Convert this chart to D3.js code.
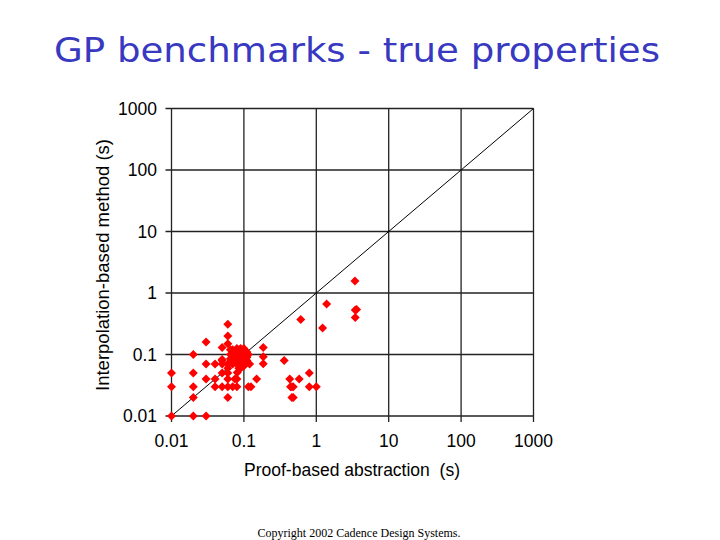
<!DOCTYPE html>
<html><head><meta charset="utf-8">
<script src="https://cdn.jsdelivr.net/npm/d3@7"></script>
<style>body{margin:0;background:#fff}svg{display:block}</style>
</head><body>
<script>
const xTicks = [0.01, 0.1, 1, 10, 100, 1000];
const yTicks = [0.01, 0.1, 1, 10, 100, 1000];
const tickLabels = ["0.01", "0.1", "1", "10", "100", "1000"];
// Proof-based abstraction time (x) and interpolation-based time (y), seconds
const proofTimes = [
  0.01,0.01,0.01, 0.02,0.02,0.02,0.02,0.02, 0.03,0.03,0.03,0.03, 0.04,0.04,0.04,
  0.05,0.05,0.05,0.05,0.05,0.05, 0.06,0.06,0.06,0.06,0.06,0.06,0.06,0.06,0.06,
  0.075,0.08,0.08,0.07,0.081,
  0.07,0.08,0.09,0.1,0.08,0.09,0.1,0.07,0.08,0.09,0.1,0.11,0.07,0.08,0.09,0.1,0.11,0.095,0.085,0.075,0.1,0.09,0.08,0.07,0.065,0.065,0.11,0.085,0.095,0.065,
  0.075,0.085,0.095,0.105,0.075,0.085,0.095,0.105,0.08,0.09,0.1,0.07,0.115,0.1,0.09,
  0.12,0.115,0.125,0.15,0.185,0.185,0.185,0.36,
  0.43,0.44,0.46,0.46,0.48,0.48,0.58,0.61,0.8,0.8,1.0,1.22,1.39,3.42,3.45,3.6,3.45
];
const interpTimes = [
  0.05,0.03,0.01, 0.1,0.05,0.03,0.02,0.01, 0.16,0.07,0.04,0.01, 0.07,0.04,0.03,
  0.13,0.08,0.07,0.05,0.03,0.083, 0.31,0.2,0.15,0.07,0.05,0.04,0.03,0.02,0.06,
  0.04,0.04,0.03,0.03,0.051,
  0.1,0.1,0.1,0.1,0.11,0.12,0.12,0.12,0.09,0.09,0.09,0.09,0.08,0.08,0.08,0.08,0.11,0.105,0.095,0.11,0.07,0.07,0.07,0.07,0.1,0.12,0.08,0.06,0.065,0.085,
  0.095,0.105,0.115,0.085,0.085,0.115,0.075,0.105,0.125,0.125,0.125,0.09,0.1,0.065,0.06,
  0.07,0.03,0.03,0.04,0.13,0.092,0.071,0.08,
  0.04,0.03,0.03,0.02,0.03,0.02,0.04,0.37,0.05,0.03,0.03,0.27,0.66,1.56,0.53,0.54,0.40
];

const W = 720, H = 540;
const svg = d3.select("body").append("svg").attr("width", W).attr("height", H);

const x = d3.scaleLog().domain([0.01, 1000]).range([171.5, 533.5]);
const y = d3.scaleLog().domain([0.01, 1000]).range([416, 108.5]);

// title
svg.append("text").attr("x", 357).attr("y", 62).attr("text-anchor", "middle")
  .attr("font-family", "'Comic Sans MS','DejaVu Sans',sans-serif").attr("font-size", 34)
  .attr("fill", "#3838c0").attr("textLength", 606).attr("lengthAdjust", "spacingAndGlyphs")
  .text("GP benchmarks - true properties");

const g = svg.append("g");
// grid
g.selectAll("line.v").data(xTicks).join("line")
  .attr("x1", d => x(d)).attr("x2", d => x(d)).attr("y1", y(1000)).attr("y2", y(0.01) + 6)
  .attr("stroke", "#222").attr("stroke-width", 1.3);
g.selectAll("line.h").data(yTicks).join("line")
  .attr("y1", d => y(d)).attr("y2", d => y(d)).attr("x1", x(0.01) - 6).attr("x2", x(1000))
  .attr("stroke", "#222").attr("stroke-width", 1.3);
// diagonal
g.append("line").attr("x1", x(0.01)).attr("y1", y(0.01)).attr("x2", x(1000)).attr("y2", y(1000))
  .attr("stroke", "#000").attr("stroke-width", 1);

// tick labels
g.selectAll("text.xt").data(xTicks).join("text")
  .attr("x", d => x(d)).attr("y", 447).attr("text-anchor", "middle")
  .attr("font-family", "'Liberation Sans',Arial,sans-serif").attr("font-size", 17.5).attr("fill", "#000")
  .text((d, i) => tickLabels[i]);
g.selectAll("text.yt").data(yTicks).join("text")
  .attr("x", 157).attr("y", d => y(d) + 6).attr("text-anchor", "end")
  .attr("font-family", "'Liberation Sans',Arial,sans-serif").attr("font-size", 17.5).attr("fill", "#000")
  .text((d, i) => tickLabels[i]);

// axis titles
svg.append("text").attr("x", 352).attr("y", 476).attr("text-anchor", "middle")
  .attr("font-family", "'Liberation Sans',Arial,sans-serif").attr("font-size", 17.5).attr("fill", "#000")
  .attr("xml:space", "preserve").text("Proof-based abstraction  (s)");
svg.append("text").attr("transform", "translate(109,265) rotate(-90)").attr("text-anchor", "middle")
  .attr("font-family", "'Liberation Sans',Arial,sans-serif").attr("font-size", 18.5).attr("fill", "#000")
  .text("Interpolation-based method (s)");

// points
const pts = proofTimes.map((p, i) => [p, interpTimes[i]]);
const r = 4.5;
g.selectAll("path.pt").data(pts).join("path")
  .attr("d", d => { const cx = x(d[0]), cy = y(d[1]);
    return `M${cx},${cy - r}L${cx + r},${cy}L${cx},${cy + r}L${cx - r},${cy}Z`; })
  .attr("fill", "#ff0000");

// copyright
svg.append("text").attr("x", 359).attr("y", 537).attr("text-anchor", "middle")
  .attr("font-family", "'Liberation Serif','Times New Roman',serif").attr("font-size", 12).attr("fill", "#000")
  .text("Copyright 2002 Cadence Design Systems.");
</script>
</body></html>
